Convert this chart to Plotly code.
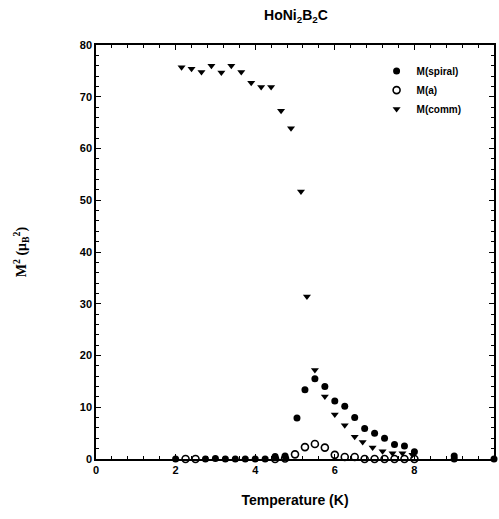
import plotly.graph_objects as go

# Data
spiral_T = [2.0, 2.75, 3.0, 3.25, 3.5, 3.75, 4.0, 4.25, 4.5, 4.75, 5.05, 5.25, 5.5, 5.75,
            6.0, 6.25, 6.5, 6.75, 7.0, 7.25, 7.5, 7.75, 8.0, 9.0, 9.0, 10.0]
spiral_M = [0.0, 0.0, 0.1, 0.0, 0.0, 0.0, 0.0, 0.0, 0.5, 0.6, 7.9, 13.4, 15.5, 14.0,
            11.2, 10.2, 8.0, 5.9, 5.0, 4.0, 2.8, 2.5, 1.4, 0.6, 0.0, 0.0]

a_T = [2.25, 2.5, 4.5, 4.75, 5.0, 5.25, 5.5, 5.75, 6.0, 6.25, 6.5, 6.75, 7.0, 7.25,
       7.5, 7.75, 8.0]
a_M = [0.0, 0.0, 0.0, 0.1, 0.9, 2.3, 2.9, 2.2, 0.8, 0.4, 0.4, 0.0, 0.0, 0.0,
       0.0, 0.0, 0.0]

comm_T = [2.15, 2.4, 2.65, 2.9, 3.15, 3.4, 3.65, 3.9, 4.15, 4.4, 4.65, 4.9, 5.15, 5.3,
          5.5, 5.75, 6.0, 6.25, 6.5, 6.7, 6.95, 7.2, 7.45, 7.7, 7.95]
comm_M = [75.7, 75.4, 74.8, 76.0, 74.7, 76.0, 74.8, 72.7, 71.9, 71.9, 67.3, 63.9, 51.7, 31.4,
          17.2, 12.1, 8.6, 6.5, 4.3, 3.3, 2.2, 1.5, 1.1, 1.1, 0.8]

x_ticks = [0, 2, 4, 6, 8, 10]
y_ticks = [0, 10, 20, 30, 40, 50, 60, 70, 80]

FONT = "Liberation Sans"

fig = go.Figure()
fig.add_trace(go.Scatter(x=spiral_T, y=spiral_M, mode="markers", name="M(spiral)",
                         marker=dict(symbol="circle", size=7, color="black"), cliponaxis=False))
fig.add_trace(go.Scatter(x=a_T, y=a_M, mode="markers", name="M(a)",
                         marker=dict(symbol="circle-open", size=7, color="black",
                                     line=dict(width=1.6)), cliponaxis=False))
fig.add_trace(go.Scatter(x=comm_T, y=comm_M, mode="markers", name="M(comm)",
                         marker=dict(symbol="triangle-down", size=7, color="black"), cliponaxis=False))

axis_common = dict(showline=True, linecolor="black", linewidth=1.5, mirror="ticks",
                   ticks="inside", ticklen=5, tickwidth=1.2, tickcolor="black",
                   showgrid=False, zeroline=False,
                   tickfont=dict(family=FONT, size=11, color="black", weight="bold"))

fig.update_layout(
    width=499, height=519,
    margin=dict(l=96, r=3, t=45, b=60),
    paper_bgcolor="white", plot_bgcolor="white",
    title=dict(text="HoNi<sub>2</sub>B<sub>2</sub>C", x=(96 + 496) / 2 / 499,
               xanchor="center", y=1 - 15 / 519, yanchor="middle",
               font=dict(family=FONT, size=14, color="black", weight="bold")),
    xaxis=dict(range=[0, 10], tickvals=x_ticks,
               title=dict(text="Temperature (K)",
                          font=dict(family=FONT, size=14, color="black", weight="bold"),
                          standoff=20),
               minor=dict(ticks="inside", ticklen=3, dtick=0.4, tickcolor="black"),
               **axis_common),
    yaxis=dict(range=[0, 80], tickvals=y_ticks,
               title=dict(text="M<sup>2</sup> (μ<sub>B</sub><sup>2</sup>)",
                          font=dict(family="Liberation Serif", size=14, color="black",
                                    weight="bold"),
                          standoff=50),
               minor=dict(ticks="inside", ticklen=3, dtick=2, tickcolor="black"),
               **axis_common),
    legend=dict(x=0.705, y=0.972, xanchor="left", yanchor="top",
                bgcolor="rgba(0,0,0,0)",
                font=dict(family=FONT, size=10, color="black", weight="bold"),
                tracegroupgap=0),
    showlegend=True,
)

fig.write_html("out.html")
